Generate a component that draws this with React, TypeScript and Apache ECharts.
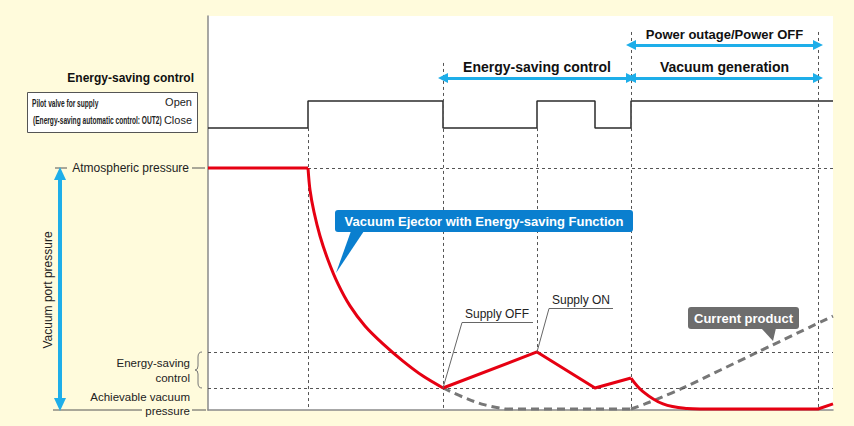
import React, { useEffect, useRef } from "react";
import * as echarts from "echarts";

// ---- axes (time units on x; pressure on y: achievable vacuum = 0, atmospheric = 100)
const X_MIN = 0;
const X_MAX = 125;
const P_MIN = 0;
const P_MAX = 162.8;
const VALVE_MIN = -10.44;
const VALVE_MAX = 4.15;

// ---- pressure levels
const ATM = 100;
const ES_UPPER = 24;
const ES_LOWER = 9.1;

// ---- event times
const T_START = 20;
const T_OFF = 47;
const T_ON = 65.8;
const T_POWER_OFF = 84.6;
const T_POWER_ON = 122;

// ---- pilot valve (0 = Close, 1 = Open)
const VALVE_TIME = [0, 20, 20, 47, 47, 65.8, 65.8, 77.4, 77.4, 84.6, 84.6, 125];
const VALVE_STATE = [0, 0, 1, 1, 0, 0, 1, 1, 0, 0, 1, 1];

// ---- red: vacuum ejector with energy-saving function
const RED_HOLD = [[0, 100], [20, 100]];
const RED_DROP = [
  [20, 100], [20.4, 90.9], [21.2, 81.8], [22.4, 71.9], [24, 62], [26, 52.1],
  [28.4, 43], [31.4, 34.7], [35, 27.3], [39, 20.2], [43, 14], [47, 9.1],
];
const RED_SAVE = [[47, 9.1], [65.8, 24], [77.4, 9.1], [84.6, 13.2]];
const RED_RECOVER = [[84.6, 13.2], [87, 7.6], [91, 2.5], [95.8, 0.6], [98.4, 0.4]];
const RED_FLAT = [[98.4, 0.4], [122, 0.4], [125, 2.5]];

// ---- gray dashed: current product
const GRAY_DIP = [[47, 9.1], [51.4, 5], [55.4, 2.1], [59.4, 0.4]];
const GRAY_FLAT = [[59.4, 0.4], [84.6, 0.4]];
const GRAY_RISE = [[84.6, 0.4], [87.4, 2.5], [90.4, 5], [95, 9.1], [110, 24], [125, 38.8]];

// ---- guide extents (pressure units)
const TOP_HIGH = 156.2;
const TOP_MID = 143.4;
const VALVE_CLOSE_P = 116.5;
const ARROW_UPPER = 150.8;
const ARROW_LOWER = 137.2;

const FONT = '"Liberation Sans", Arial, Helvetica, sans-serif';
const RED = "#e60012";
const BLUE = "#1eaee9";
const GUIDE = "#555";

echarts.graphic.registerShape(
  "brace",
  echarts.graphic.extendPath(
    "M7,0 Q3,0 3,5 L3,14 Q3,18 0,18 Q3,18 3,22 L3,31 Q3,36 7,36",
    {}
  )
);

const seg = (a: number[], b: number[]) => [{ coord: a }, { coord: b }];

function buildOption() {
  const lineBase = {
    type: "line",
    showSymbol: false,
    symbol: "none",
    silent: true,
    animation: false,
    clip: false,
  };
  const grayStyle = { color: "#777", width: 3, type: [8, 5] };
  return {
    animation: false,
    backgroundColor: "#fffbdc",
    grid: {
      left: 208,
      right: 21,
      top: 16,
      bottom: 16,
      show: true,
      backgroundColor: "#ffffff",
      borderWidth: 0,
    },
    xAxis: {
      type: "value",
      min: X_MIN,
      max: X_MAX,
      axisLine: { show: true, lineStyle: { color: "#8a8a8a", width: 1.5 } },
      axisTick: { show: false },
      axisLabel: { show: false },
      splitLine: { show: false },
    },
    yAxis: [
      {
        type: "value",
        min: P_MIN,
        max: P_MAX,
        axisLine: { show: true, lineStyle: { color: "#8a8a8a", width: 1.5 } },
        axisTick: { show: false },
        axisLabel: { show: false },
        splitLine: { show: false },
      },
      {
        type: "value",
        min: VALVE_MIN,
        max: VALVE_MAX,
        show: false,
        splitLine: { show: false },
      },
    ],
    series: [
      {
        ...lineBase,
        name: "guides",
        data: [],
        z: 1,
        markLine: {
          silent: true,
          symbol: "none",
          animation: false,
          label: { show: false },
          lineStyle: { color: GUIDE, width: 1, type: [3, 3] },
          emphasis: { disabled: true },
          data: [
            seg([T_START, VALVE_CLOSE_P], [T_START, 0]),
            seg([T_OFF, TOP_MID], [T_OFF, 0]),
            seg([T_ON, VALVE_CLOSE_P], [T_ON, ES_UPPER]),
            seg([T_POWER_OFF, TOP_HIGH], [T_POWER_OFF, 0]),
            seg([T_POWER_ON, TOP_HIGH], [T_POWER_ON, 0]),
            seg([T_START, ATM], [X_MAX, ATM]),
            seg([X_MIN, ES_UPPER], [X_MAX, ES_UPPER]),
            seg([X_MIN, ES_LOWER], [X_MAX, ES_LOWER]),
          ],
        },
      },
      {
        ...lineBase,
        name: "valve",
        yAxisIndex: 1,
        data: VALVE_TIME.map((t, i) => [t, VALVE_STATE[i]]),
        lineStyle: { color: "#2b2b2b", width: 1.5 },
        z: 3,
      },
      { ...lineBase, name: "gray1", data: GRAY_DIP, smooth: 0.4, lineStyle: grayStyle, z: 4 },
      { ...lineBase, name: "red1", data: RED_HOLD, lineStyle: { color: RED, width: 3 }, z: 5 },
      { ...lineBase, name: "gray2", data: GRAY_FLAT, lineStyle: grayStyle, z: 4 },
      { ...lineBase, name: "gray3", data: GRAY_RISE, smooth: 0.3, lineStyle: grayStyle, z: 4 },
      { ...lineBase, name: "red2", data: RED_DROP, smooth: 0.3, lineStyle: { color: RED, width: 3 }, z: 5 },
      { ...lineBase, name: "red3", data: RED_SAVE, lineStyle: { color: RED, width: 3, join: "round" }, z: 5 },
      { ...lineBase, name: "red4", data: RED_RECOVER, smooth: 0.4, lineStyle: { color: RED, width: 3 }, z: 5 },
      { ...lineBase, name: "red5", data: RED_FLAT, lineStyle: { color: RED, width: 3 }, z: 5 },
      {
        ...lineBase,
        name: "arrows",
        data: [],
        z: 6,
        markLine: {
          silent: true,
          animation: false,
          symbol: ["triangle", "triangle"],
          symbolSize: [10, 10],
          label: { show: false },
          emphasis: { disabled: true },
          lineStyle: { color: BLUE, width: 3, type: "solid" },
          data: [
            seg([T_OFF, ARROW_LOWER], [T_POWER_OFF, ARROW_LOWER]),
            seg([T_POWER_OFF, ARROW_LOWER], [T_POWER_ON, ARROW_LOWER]),
            seg([T_POWER_OFF, ARROW_UPPER], [T_POWER_ON, ARROW_UPPER]),
          ],
        },
      },
    ],
  };
}

function txt(text: string, x: number, y: number, opts: any = {}) {
  const { align = "left", size = 12, weight = "normal", fill = "#222", family = FONT, ...rest } = opts;
  return {
    type: "text",
    x,
    y,
    z: 100,
    silent: true,
    ...rest,
    style: {
      text,
      fontSize: size,
      fontWeight: weight,
      fontFamily: family,
      fill,
      align,
      verticalAlign: "middle",
    },
  };
}

function ln(x1: number, y1: number, x2: number, y2: number, stroke = GUIDE, lineWidth = 1) {
  return {
    type: "line",
    z: 100,
    silent: true,
    shape: { x1, y1, x2, y2 },
    style: { stroke, lineWidth },
  };
}

function buildGraphic(p: (x: number, y: number) => number[]) {
  const offPt = p(T_OFF, ES_LOWER);
  const onPt = p(T_ON, ES_UPPER);
  const midSave = p((T_OFF + T_POWER_OFF) / 2, 0)[0];
  const midPower = p((T_POWER_OFF + T_POWER_ON) / 2, 0)[0];
  return [
    // left-side labels
    txt("Energy-saving control", 194, 78, { align: "right", size: 12, weight: "bold", fill: "#111" }),
    {
      type: "rect",
      z: 99,
      silent: true,
      shape: { x: 27.5, y: 92.5, width: 170, height: 40 },
      style: { fill: "#ffffff", stroke: "#555", lineWidth: 1 },
    },
    txt("Pilot valve for supply", 32, 103, { size: 10, weight: "bold", scaleX: 0.66 }),
    txt("(Energy-saving automatic control: OUT2)", 33, 120, { size: 10, weight: "bold", scaleX: 0.66 }),
    txt("Open", 192, 102, { align: "right", size: 11 }),
    txt("Close", 192, 120, { align: "right", size: 11 }),

    txt("Atmospheric pressure", 189, 168, { align: "right", size: 12 }),
    ln(55, 168, 67, 168),
    ln(192, 168, 205, 168),
    txt("Energy-saving", 190, 363, { align: "right", size: 11.5 }),
    txt("control", 190, 378, { align: "right", size: 11.5 }),
    {
      type: "brace",
      z: 100,
      silent: true,
      x: 195,
      y: 352,
      style: { stroke: "#777", fill: "none", lineWidth: 1 },
    },
    txt("Achievable vacuum", 190, 397, { align: "right", size: 11.5 }),
    txt("pressure", 190, 410.5, { align: "right", size: 11.5 }),
    ln(53, 410, 142, 410),
    ln(192, 410, 206, 410),
    {
      ...txt("Vacuum port pressure", 48, 290, { align: "center", size: 12 }),
      rotation: Math.PI / 2,
    },
    ln(60, 178, 60, 400, BLUE, 4),
    {
      type: "polygon",
      z: 101,
      silent: true,
      shape: { points: [[60, 167], [54, 180], [66, 180]] },
      style: { fill: BLUE },
    },
    {
      type: "polygon",
      z: 101,
      silent: true,
      shape: { points: [[60, 411], [54, 398], [66, 398]] },
      style: { fill: BLUE },
    },

    // top phase labels
    txt("Power outage/Power OFF", midPower, 34, { align: "center", size: 13, weight: "bold", fill: "#111" }),
    txt("Energy-saving control", midSave, 67, { align: "center", size: 14, weight: "bold", fill: "#111" }),
    txt("Vacuum generation", midPower, 67, { align: "center", size: 14, weight: "bold", fill: "#111" }),

    // blue callout
    {
      type: "rect",
      z: 100,
      silent: true,
      shape: { x: 335, y: 210, width: 298, height: 22, r: 3 },
      style: { fill: "#0a7fcf" },
    },
    {
      type: "polygon",
      z: 100,
      silent: true,
      shape: { points: [[351, 231], [364, 231], [336, 273]] },
      style: { fill: "#0a7fcf" },
    },
    txt("Vacuum Ejector with Energy-saving Function", 484, 221.5, { align: "center", size: 13, weight: "bold", fill: "#ffffff" }),

    // gray callout
    {
      type: "rect",
      z: 100,
      silent: true,
      shape: { x: 688, y: 307, width: 111, height: 22, r: 3 },
      style: { fill: "#6d6d6d" },
    },
    {
      type: "polygon",
      z: 100,
      silent: true,
      shape: { points: [[761, 328], [776, 328], [773, 341]] },
      style: { fill: "#6d6d6d" },
    },
    txt("Current product", 743.5, 318.5, { align: "center", size: 13, weight: "bold", fill: "#ffffff" }),

    // supply OFF / ON annotations
    txt("Supply OFF", 465, 314, { size: 12 }),
    ln(462, 322.5, 533, 322.5, "#666", 1),
    ln(462, 322.5, offPt[0], offPt[1], "#666", 1),
    txt("Supply ON", 552, 300, { size: 12 }),
    ln(549, 308.5, 613, 308.5, "#666", 1),
    ln(549, 308.5, onPt[0], onPt[1], "#666", 1),
  ];
}

export default function App() {
  const ref = useRef<HTMLDivElement>(null);
  useEffect(() => {
    document.body.style.margin = "0";
    const el = ref.current;
    if (!el) return;
    const chart = echarts.init(el, null, { renderer: "svg" });
    chart.setOption(buildOption() as any);
    const p = (x: number, y: number) =>
      chart.convertToPixel({ seriesIndex: 3 }, [x, y]) as unknown as number[];
    chart.setOption({ graphic: buildGraphic(p) } as any);
    return () => chart.dispose();
  }, []);
  return <div ref={ref} style={{ width: 854, height: 426 }} />;
}
